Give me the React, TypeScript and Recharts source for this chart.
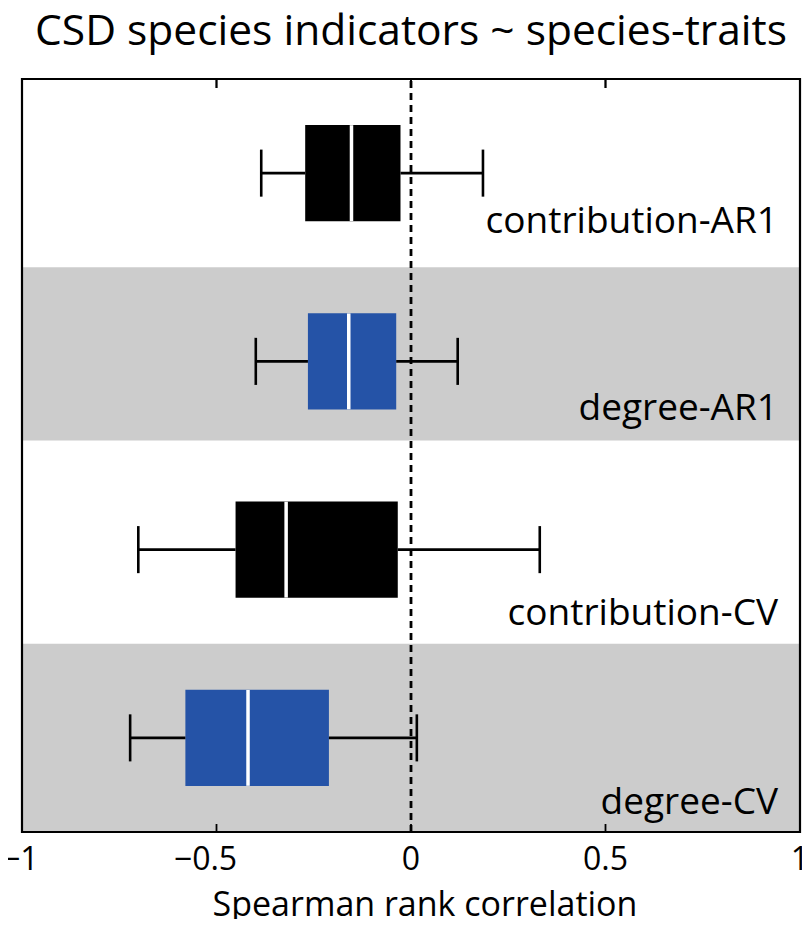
import React from 'react';
import { ComposedChart, XAxis, YAxis, Scatter, ReferenceArea, ReferenceLine, ReferenceDot } from 'recharts';

const rows = ['contribution-AR1', 'degree-AR1', 'contribution-CV', 'degree-CV'];
const rowPos = [1, 2, 3, 4];
const whiskerLow = [-0.385, -0.399, -0.701, -0.722];
const q1 = [-0.272, -0.265, -0.451, -0.58];
const median = [-0.153, -0.16, -0.321, -0.419];
const q3 = [-0.027, -0.038, -0.034, -0.211];
const whiskerHigh = [0.185, 0.12, 0.331, 0.015];
const boxColors = ['#000000', '#2553a7', '#000000', '#2553a7'];
const bandFrom = [1.5, 3.5];
const bandTo = [2.42, 4.5];
const xTicks = [-1, -0.5, 0, 0.5, 1];

const title = 'CSD species indicators ~ species-traits';
const xLabel = 'Spearman rank correlation';

const FONT = '"Open Sans", sans-serif';
const BOX_HALF = 0.255;
const CAP_HALF = 0.125;
const labelY = [1.32, 2.314, 3.4, 4.404];

const W = 810;
const H = 927;
const TOP_AXIS_H = 1;
const M = { top: 79 - TOP_AXIS_H, right: 10, bottom: 0, left: 22 };
const AXIS_H = 96;
const PX_PER_ROW = (H - 79 - AXIS_H) / 4;
const TOP_TICK = 9 / PX_PER_ROW;

const rowData = rows.map((name, i) => ({ name, pos: rowPos[i], median: median[i] }));

const XTick = (props: any) => {
  const { x, y, payload } = props;
  const v = payload.value as number;
  const text = v < 0 ? '\u2212' + String(Math.abs(v)) : String(v);
  let tx = v < 0 ? x - 11 : x;
  let anchor = 'middle';
  const approx = text.length * 0.55 * 32;
  if (tx - approx / 2 < 2) {
    tx = 2;
    anchor = 'start';
  }
  return (
    <text x={tx} y={y + 38} textAnchor={anchor} fontSize={32} fontFamily={FONT} fill="#000">
      {text}
    </text>
  );
};

// top axis: no label, just a short mark pointing down into the plot
const TopTick = (props: any) => {
  const { x, y } = props;
  return <line x1={x} x2={x} y1={y} y2={y + 9} stroke="#000" strokeWidth={1.8} />;
};

const NoLabel = () => <g />;

const rowLabel = (text: string) => (props: any) => {
  const vb = props.viewBox;
  return (
    <text x={vb.x - 22} y={vb.y} textAnchor="end" fontSize={37} fontFamily={FONT} fill="#000">
      {text}
    </text>
  );
};

const axisTitle = (props: any) => {
  const vb = props.viewBox;
  return (
    <text x={vb.x + vb.width / 2 + 14} y={vb.y + 84} textAnchor="middle" fontSize={34} fontFamily={FONT} fill="#000">
      {xLabel}
    </text>
  );
};

const MedianMark = (props: any) => {
  const { cx, cy } = props;
  const h = BOX_HALF * PX_PER_ROW;
  return <line x1={cx} x2={cx} y1={cy - h} y2={cy + h} stroke="#ffffff" strokeWidth={3.5} />;
};

const lineStyle = { stroke: '#000', strokeWidth: 2.6 };

export default function App() {
  return (
    <div style={{ position: 'relative', width: W, height: H, margin: -8, background: '#fff' }}>
      <ComposedChart width={W} height={H} margin={M} data={rowData}>
        <XAxis
          xAxisId="top"
          orientation="top"
          type="number"
          dataKey="median"
          domain={[-1, 1]}
          allowDataOverflow
          ticks={xTicks}
          height={TOP_AXIS_H}
          tickSize={0}
          tickMargin={0}
          tickLine={false}
          axisLine={false}
          tick={<TopTick />}
        />
        <XAxis
          xAxisId="inBottom"
          orientation="bottom"
          type="number"
          dataKey="median"
          domain={[-1, 1]}
          allowDataOverflow
          ticks={xTicks}
          mirror
          height={1}
          tick={<NoLabel />}
          tickSize={8}
          axisLine={false}
          tickLine={{ stroke: '#000', strokeWidth: 1.8 }}
        />
        <XAxis
          xAxisId={0}
          orientation="bottom"
          type="number"
          dataKey="median"
          domain={[-1, 1]}
          allowDataOverflow
          ticks={xTicks}
          height={AXIS_H - 1}
          tickSize={0}
          tickMargin={0}
          tickLine={false}
          axisLine={false}
          tick={<XTick />}
          label={axisTitle}
        />
        <YAxis yAxisId={0} type="number" dataKey="pos" domain={[0.5, 4.5]} allowDataOverflow reversed hide />

        {bandFrom.map((b, i) => (
          <ReferenceArea
            key={'band' + i}
            x1={-1}
            x2={1}
            y1={b}
            y2={bandTo[i]}
            fill="#cccccc"
            fillOpacity={1}
            stroke="none"
          />
        ))}

        {rows.map((r, i) => (
          <ReferenceLine
            key={'wl' + r}
            segment={[
              { x: whiskerLow[i], y: rowPos[i] },
              { x: q1[i], y: rowPos[i] },
            ]}
            {...lineStyle}
          />
        ))}
        {rows.map((r, i) => (
          <ReferenceLine
            key={'wh' + r}
            segment={[
              { x: q3[i], y: rowPos[i] },
              { x: whiskerHigh[i], y: rowPos[i] },
            ]}
            {...lineStyle}
          />
        ))}
        {rows.map((r, i) => (
          <ReferenceLine
            key={'cl' + r}
            segment={[
              { x: whiskerLow[i], y: rowPos[i] - CAP_HALF },
              { x: whiskerLow[i], y: rowPos[i] + CAP_HALF },
            ]}
            {...lineStyle}
          />
        ))}
        {rows.map((r, i) => (
          <ReferenceLine
            key={'ch' + r}
            segment={[
              { x: whiskerHigh[i], y: rowPos[i] - CAP_HALF },
              { x: whiskerHigh[i], y: rowPos[i] + CAP_HALF },
            ]}
            {...lineStyle}
          />
        ))}

        {rows.map((r, i) => (
          <ReferenceArea
            key={'box' + r}
            x1={q1[i]}
            x2={q3[i]}
            y1={rowPos[i] - BOX_HALF}
            y2={rowPos[i] + BOX_HALF}
            fill={boxColors[i]}
            fillOpacity={1}
            stroke="none"
          />
        ))}

        <ReferenceLine x={0} stroke="#000" strokeWidth={2.8} strokeDasharray="7 5" />

        {/* inward tick marks along the top edge, backup in case the top axis is skipped */}
        {xTicks.map((t) => (
          <ReferenceLine
            key={'tt' + t}
            ifOverflow="visible"
            segment={[
              { x: t, y: 0.5 },
              { x: t, y: 0.5 + TOP_TICK },
            ]}
            stroke="#000"
            strokeWidth={1.8}
          />
        ))}

        {rows.map((r, i) => (
          <ReferenceDot key={'lab' + r} x={1} y={labelY[i]} r={0} fill="none" stroke="none" label={rowLabel(r)} />
        ))}

        <ReferenceArea x1={-1} x2={1} y1={0.5} y2={4.5} fill="none" fillOpacity={0} stroke="#000" strokeWidth={2.2} />

        <Scatter dataKey="median" isAnimationActive={false} shape={<MedianMark />} />
      </ComposedChart>
      <svg width={W} height={70} style={{ position: 'absolute', left: 0, top: 0 }}>
        <text x={411} y={45} textAnchor="middle" fontSize={42.5} fontFamily={FONT} fill="#000">
          {title}
        </text>
      </svg>
    </div>
  );
}
